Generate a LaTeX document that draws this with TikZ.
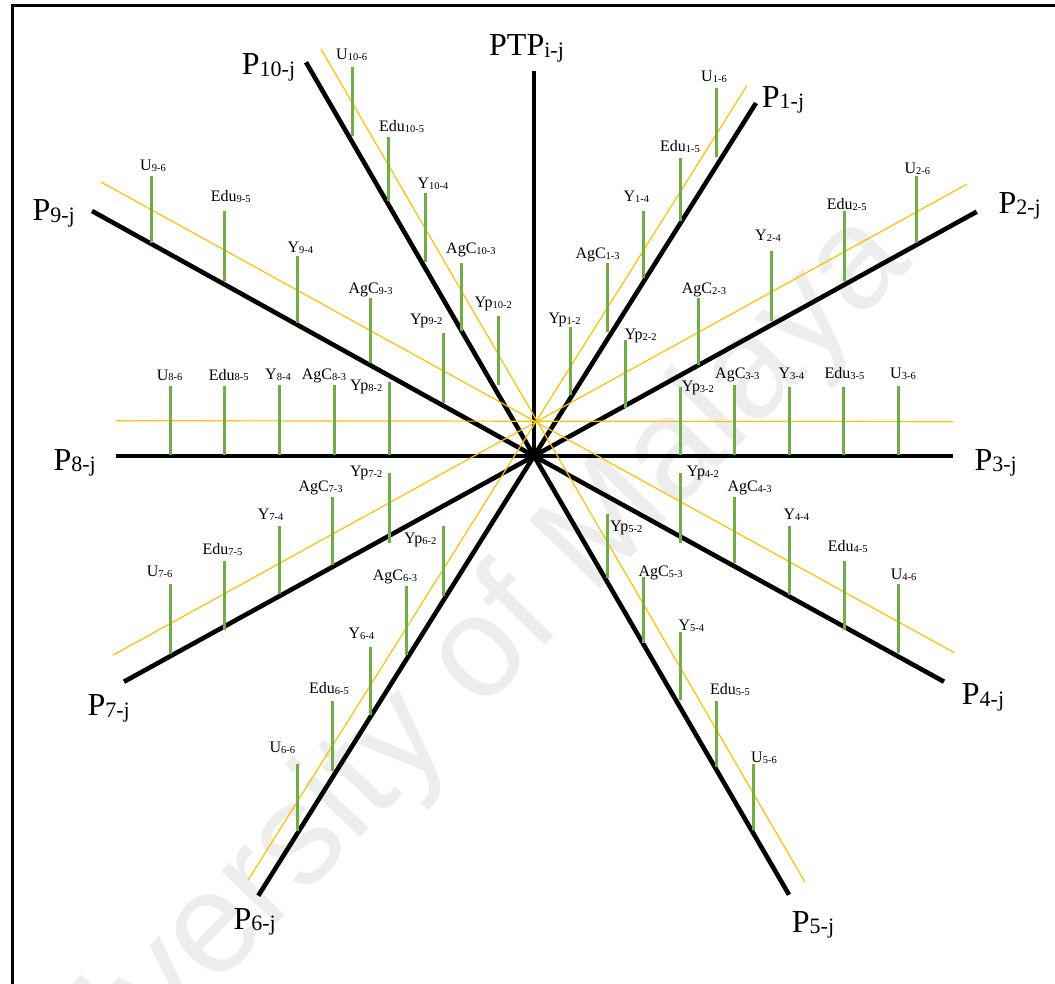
\documentclass[tikz,border=0pt]{standalone}
\usepackage{fontspec}
\setmainfont{Liberation Serif}
\newfontfamily\wmfont{Liberation Sans}
\definecolor{tickgreen}{RGB}{112,173,71}
\definecolor{guideyellow}{RGB}{255,192,0}
\definecolor{wmgray}{RGB}{237,237,237}
\tikzset{
  axisline/.style={line width=4.6pt},
  guideline/.style={guideyellow, line width=1.2pt},
  tickline/.style={tickgreen, line width=3pt},
  smalllab/.style={inner sep=0pt, anchor=base west, font=\fontsize{16}{18}\selectfont},
  biglab/.style={inner sep=0pt, anchor=base west, font=\fontsize{32}{36}\selectfont},
  frameline/.style={line width=3pt},
  watermark/.style={wmgray, inner sep=0pt, anchor=base west, font=\wmfont\fontsize{144}{150}\selectfont}
}
\newcommand\smlab[2]{#1\raisebox{-1pt}{\fontsize{10.5}{12}\selectfont #2}}
\newcommand\bglab[2]{#1\raisebox{-1.5pt}{\fontsize{22}{24}\selectfont #2}}
\begin{document}
\begin{tikzpicture}[x=1pt,y=-1pt]
\useasboundingbox (0,0) rectangle (1055,984);
\clip (0,0) rectangle (1055,984);
% watermark
\node[watermark, rotate=46] (wm) at (14,1196) {University of Malaya};
% frame
\draw[frameline] (12,1000) -- (12,6) -- (1070,6);
% centre and axis ends
\coordinate (O) at (534,456);
\coordinate (ePTP) at (534,71);
\coordinate (e1) at (756,103);
\coordinate (e2) at (976.7,211.7);
\coordinate (e3) at (952.7,456);
\coordinate (e4) at (944,681.7);
\coordinate (e5) at (789,894.7);
\coordinate (e6) at (258.3,895.7);
\coordinate (e7) at (124,681.7);
\coordinate (e8) at (116,456);
\coordinate (e9) at (92,211);
\coordinate (e10) at (306,62.3);
% black axes
\foreach \e in {ePTP,e1,e2,e3,e4,e5,e6,e7,e8,e9,e10}
  \draw[axisline] (O) -- (\e);
% yellow guide lines
\coordinate (g9) at (101,182);    \coordinate (g4) at (954.3,652.7);
\coordinate (g7) at (113.3,655);  \coordinate (g2) at (966.7,184.3);
\coordinate (g10) at (321,49);    \coordinate (g5) at (805,882.3);
\coordinate (g6) at (248.3,879.7);\coordinate (g1) at (746.7,86);
\coordinate (g8) at (116,420.7);  \coordinate (g3) at (953,421.7);
\draw[guideline] (g9) -- (g4);
\draw[guideline] (g7) -- (g2);
\draw[guideline] (g10) -- (g5);
\draw[guideline] (g6) -- (g1);
\draw[guideline] (g8) -- (g3);
% green ticks
\foreach \x/\t/\b in {
 570/326.7/395, 607.3/263.3/332, 643.7/210.7/278.3, 680.3/158.3/221, 716.3/88.3/156.7,
 625/340/408.3, 698.3/297.7/365, 771.3/251/320.7, 844/211/280.7, 916.7/176/242.7,
 680/387.3/455, 734.7/385/455, 789.3/387.3/455, 843.3/387.3/455, 898.3/386/455,
 680/473.3/542.7, 734.7/496.7/563.3, 789.3/526/595, 844/561/630, 898.3/584.3/653.3,
 607.3/514.3/578.3, 643.7/577.3/643, 680/631.7/700, 716.3/701.3/767.3, 753/764/829.7,
 443/526/595.7, 406.7/586/655, 370.3/647.3/715, 332.7/701.3/770.7, 297.3/764/830.7,
 389/473.3/543.3, 332.7/496.7/565, 279.3/526/594.3, 224.7/561/630, 170.3/584.3/654,
 389/382.3/455, 334/385/455, 279.3/385/455, 224.7/386/455, 170.3/386/455,
 443/333/402.7, 370.3/298.3/363.3, 297.3/256/322.7, 224.7/210.7/280.7, 151.7/175.7/242.7,
 498/316/385, 461.7/263.3/331, 425/193.3/262.3, 388.7/136.7/201, 352.3/66.7/136}
  \draw[tickline] (\x,\t) -- (\x,\b);
% small labels
\foreach \nm/\x/\y/\m/\s in {
 yp1/548.3/323.3/Yp/1-2, agc1/575.3/258.3/AgC/1-3, y1/623.3/201.7/Y/1-4, edu1/660/151.7/Edu/1-5, u1/701/82/U/1-6,
 yp2/624.3/340/Yp/2-2, agc2/681.7/294/AgC/2-3, y2/755/241/Y/2-4, edu2/826.7/209.3/Edu/2-5, u2/904.3/173.3/U/2-6,
 yp3/681.7/391.7/Yp/3-2, agc3/715/378.3/AgC/3-3, y3/778.3/378.3/Y/3-4, edu3/824.3/378.3/Edu/3-5, u3/890/378.3/U/3-6,
 yp4/686.7/476.7/Yp/4-2, agc4/727.3/491.7/AgC/4-3, y4/783.3/519.3/Y/4-4, edu4/827.7/551.7/Edu/4-5, u4/890.7/579.3/U/4-6,
 yp5/610/531.7/Yp/5-2, agc5/638.3/576/AgC/5-3, y5/678.3/630/Y/5-4, edu5/710/694/Edu/5-5, u5/751/762.7/U/5-6,
 yp6/404/543.3/Yp/6-2, agc6/372.7/580/AgC/6-3, y6/348.3/638.3/Y/6-4, edu6/309/693/Edu/6-5, u6/269.3/752.3/U/6-6,
 yp7/350/476.7/Yp/7-2, agc7/298.3/491.7/AgC/7-3, y7/257.7/519.3/Y/7-4, edu7/202.3/554.3/Edu/7-5, u7/146.7/576.7/U/7-6,
 yp8/350/390.7/Yp/8-2, agc8/301.7/379/AgC/8-3, y8/265/379/Y/8-4, edu8/208.7/380/Edu/8-5, u8/156.7/380/U/8-6,
 yp9/410/324/Yp/9-2, agc9/348.3/293.3/AgC/9-3, y9/287.3/252.3/Y/9-4, edu9/210.7/201.7/Edu/9-5, u9/140/170.7/U/9-6,
 yp10/474.3/307.3/Yp/10-2, agc10/446/253.3/AgC/10-3, y10/417.3/188.7/Y/10-4, edu10/379/131.7/Edu/10-5, u10/336/60/U/10-6}
  \node[smalllab] (\nm) at (\x,\y) {\smlab{\m}{\s}};
% big labels
\node[biglab] (lPTP) at (489,56) {\bglab{PTP}{i-j}};
\node[biglab] (lP1) at (761.7,107.3) {\bglab{P}{1-j}};
\node[biglab] (lP2) at (998.3,213.3) {\bglab{P}{2-j}};
\node[biglab] (lP3) at (974.3,470) {\bglab{P}{3-j}};
\node[biglab] (lP4) at (961.7,704.7) {\bglab{P}{4-j}};
\node[biglab] (lP5) at (791.7,932.3) {\bglab{P}{5-j}};
\node[biglab] (lP6) at (233.3,929) {\bglab{P}{6-j}};
\node[biglab] (lP7) at (87.3,715.7) {\bglab{P}{7-j}};
\node[biglab] (lP8) at (53.3,470) {\bglab{P}{8-j}};
\node[biglab] (lP9) at (32.3,220.7) {\bglab{P}{9-j}};
\node[biglab] (lP10) at (241.7,75) {\bglab{P}{10-j}};
\end{tikzpicture}
\end{document}
